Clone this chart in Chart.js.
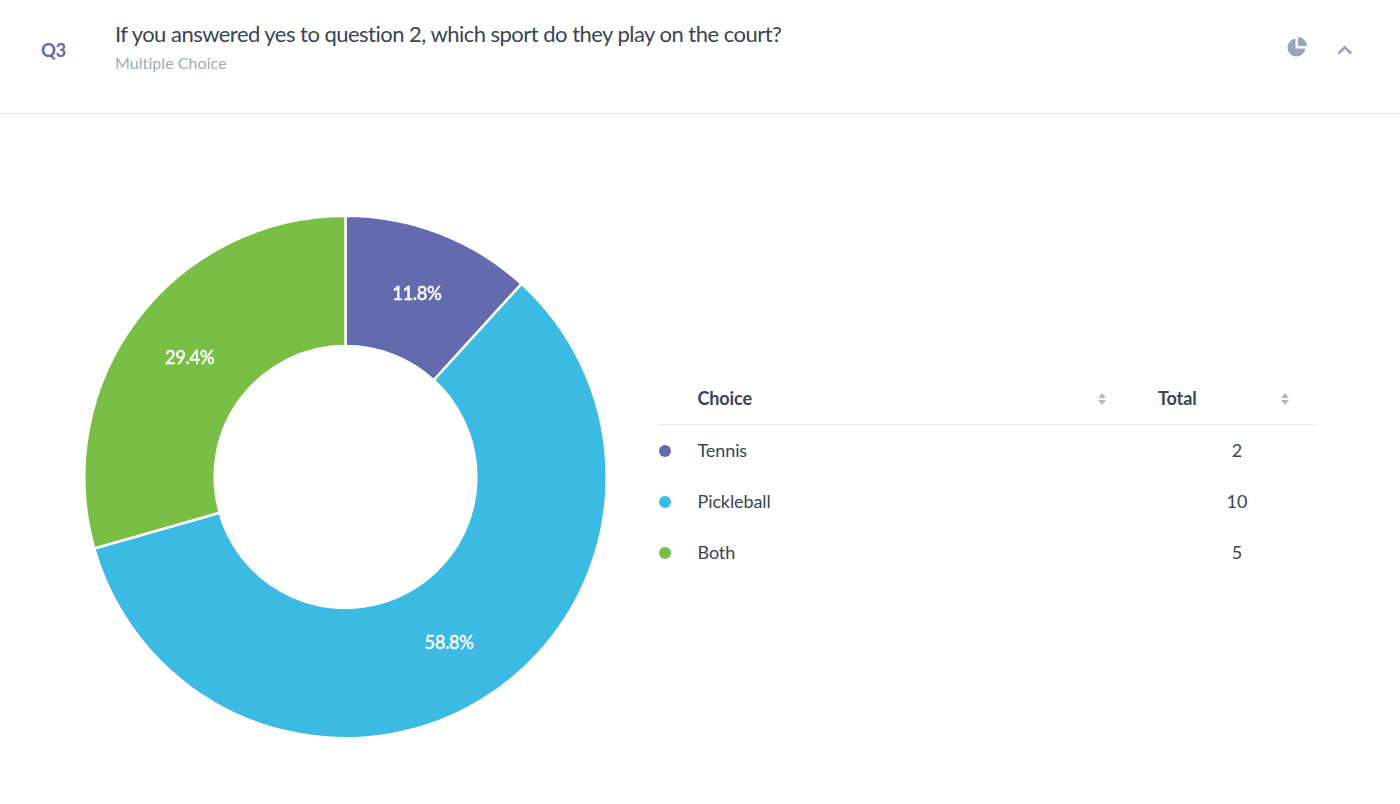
<!DOCTYPE html>
<html>
<head>
<meta charset="utf-8">
<script src="https://cdn.jsdelivr.net/npm/chart.js@4"></script>
<style>
html,body{margin:0;padding:0;background:#fff;width:1400px;height:804px;overflow:hidden;font-family:Lato,sans-serif;color:#3a4454}
.abs{position:absolute;white-space:nowrap}
#chartBox{position:absolute;left:75px;top:206.5px;width:541px;height:540px}
.dot{position:absolute;width:12px;height:12px;border-radius:50%;left:659px}
.sort{position:absolute;width:0;height:0;border-left:4px solid transparent;border-right:4px solid transparent}
</style>
</head>
<body>
<div class="abs" style="left:41px;top:38px;font-size:18.5px;font-weight:700;color:#636aae;line-height:24px;letter-spacing:-0.5px">Q3</div>
<div class="abs" style="left:115px;top:20px;font-size:22px;line-height:28px;color:#3a4454;letter-spacing:-0.52px" id="title"></div>
<div class="abs" style="left:115px;top:53px;font-size:16px;line-height:20px;color:#a3a9b8;letter-spacing:0.06px" id="subtitle"></div>
<svg class="abs" style="left:1286px;top:36px" width="22" height="22" viewBox="0 0 22 22">
  <path d="M9.5 2.6 A9 9 0 1 0 19.4 12.5 L9.5 12.5 Z" fill="#9aa3bd"/>
  <path d="M12 1 A9 9 0 0 1 21 10 L12 10 Z" fill="#9aa3bd"/>
</svg>
<svg class="abs" style="left:1336px;top:43px" width="18" height="14" viewBox="0 0 18 14">
  <path d="M2.5 10.5 L8.8 4.3 L15.2 10.5" fill="none" stroke="#9aa3bd" stroke-width="2.6"/>
</svg>
<div class="abs" style="left:0;top:113px;width:1400px;height:1px;background:#e3e5ea"></div>
<div id="chartBox"><canvas id="c"></canvas></div>
<div id="table"></div>
<script>
const categories = ["Tennis", "Pickleball", "Both"];
const totals = [2, 10, 5];
const percentLabels = ["11.8%", "58.8%", "29.4%"];
const colors = ["#636aae", "#3bbae4", "#7abf45"];
const headers = ["Choice", "Total"];
const titleText = "If you answered yes to question 2, which sport do they play on the court?";
const subtitleText = "Multiple Choice";

document.getElementById('title').textContent = titleText;
document.getElementById('subtitle').textContent = subtitleText;

const rowTops = [450, 501, 552];
const dotTops = [450.5, 502, 553];
let html = '';
html += `<div class="abs" style="left:697.5px;top:386px;font-size:18px;line-height:24px;font-weight:700;color:#3a4454;letter-spacing:-0.1px">${headers[0]}</div>`;
html += `<div class="abs" style="left:1158px;top:386px;font-size:18px;line-height:24px;font-weight:700;color:#3a4454;letter-spacing:-0.1px">${headers[1]}</div>`;
[1102, 1284.5].forEach(x => {
  html += `<div class="sort" style="left:${x-4}px;top:393px;border-bottom:5px solid #b4b8c0"></div>`;
  html += `<div class="sort" style="left:${x-4}px;top:400px;border-top:5px solid #b4b8c0"></div>`;
});
html += `<div class="abs" style="left:658px;top:424px;width:658px;height:1px;background:#e6e8ec"></div>`;
categories.forEach((c, i) => {
  const y = rowTops[i];
  html += `<div class="dot" style="top:${dotTops[i]-6}px;background:${colors[i]}"></div>`;
  html += `<div class="abs" style="left:697.5px;top:${y-12}px;font-size:18px;line-height:24px;letter-spacing:-0.1px">${c}</div>`;
  html += `<div class="abs" style="left:1197px;width:80px;text-align:center;top:${y-12}px;font-size:18px;line-height:24px">${totals[i]}</div>`;
});
document.getElementById('table').innerHTML = html;

const pctPlugin = {
  id: 'pctPlugin',
  afterDatasetsDraw(chart) {
    const ctx = chart.ctx;
    ctx.save();
    ctx.font = '500 18.5px Lato';
    ctx.letterSpacing = '-0.45px';
    ctx.fillStyle = '#ffffff';
    ctx.strokeStyle = '#ffffff';
    ctx.lineWidth = 0.35;
    ctx.textAlign = 'center';
    ctx.textBaseline = 'middle';
    chart.getDatasetMeta(0).data.forEach((arc, i) => {
      const p = arc.tooltipPosition();
      ctx.fillText(percentLabels[i], p.x + 0.5, p.y - 0.5);
      ctx.strokeText(percentLabels[i], p.x + 0.5, p.y - 0.5);
    });
    ctx.restore();
  }
};

new Chart(document.getElementById('c'), {
  type: 'doughnut',
  data: {
    labels: categories,
    datasets: [{
      data: totals,
      backgroundColor: colors,
      borderColor: '#ffffff',
      borderWidth: 2.5,
      hoverOffset: 0
    }]
  },
  options: {
    responsive: true,
    maintainAspectRatio: false,
    animation: false,
    cutout: '50.1%',
    layout: { padding: 7.5 },
    plugins: { legend: { display: false }, tooltip: { enabled: false } }
  },
  plugins: [pctPlugin]
});
</script>
</body>
</html>
